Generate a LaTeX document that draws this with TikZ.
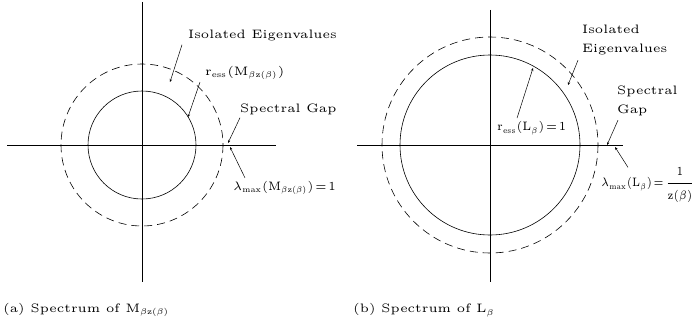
\documentclass[tikz,border=0pt]{standalone}
\usepackage{graphicx}
\usetikzlibrary{arrows.meta}
\newcommand{\smalltxt}[1]{\scalebox{2.45}{\fontsize{5}{7.75}\selectfont #1}}
\newcommand{\narrowtxt}[2]{\scalebox{#1}[2.45]{\fontsize{5}{7.75}\selectfont #2}}
\newcommand{\sbx}[1]{\scalebox{0.68}{$#1$}}
\begin{document}
\begin{tikzpicture}[x=1pt,y=-1pt,
  axis/.style={line width=0.6pt},
  solidc/.style={line width=0.6pt},
  dashc/.style={line width=0.6pt,dash pattern=on 8pt off 5pt},
  lbl/.style={anchor=west,inner sep=0pt},
  ptr/.style={line width=0.5pt,-{Stealth[length=3pt,width=2.5pt]}}]
\useasboundingbox (0,0) rectangle (700,321);
% ---------- panel (a)
\coordinate (ca) at (142,145);
\draw[axis] (142,2) -- (142,282);
\draw[axis] (7,145) -- (276,145);
\draw[solidc] (ca) circle[radius=54];
\draw[dashc] (ca) circle[radius=81];
\node[lbl] (isoa) at (188,36) {\smalltxt{Isolated Eigenvalues}};
\node[lbl] (ressa) at (205,73) {\smalltxt{$\mathrm{r}_{\sbx{\mathrm{ess}}}(\mathrm{M}_{\sbx{\beta\mathrm{z}(\beta)}})$}};
\node[lbl] (gapa) at (240,109) {\smalltxt{Spectral Gap}};
\node[lbl] (lama) at (233,188) {\narrowtxt{2.2}{$\lambda_{\sbx{\mathrm{max}}}(\mathrm{M}_{\sbx{\beta\mathrm{z}(\beta)}})\!=\!1$}};
\node[lbl] (capa) at (3,310) {\smalltxt{(a) Spectrum of $\mathrm{M}_{\sbx{\beta\mathrm{z}(\beta)}}$}};
\coordinate (isoaE) at (170,82);
\coordinate (ressaE) at (188,117);
\coordinate (gapaE) at (228,143);
\coordinate (lamaE) at (230,147);
\draw[ptr] ([xshift=-6pt,yshift=-3pt]isoa.south west) -- (isoaE);
\draw[ptr] ([xshift=-5pt,yshift=-2pt]ressa.south west) -- (ressaE);
\draw[ptr] ([yshift=-3pt]gapa.south west) -- (gapaE);
\draw[ptr] ([xshift=12pt,yshift=3pt]lama.north west) -- (lamaE);
% ---------- panel (b)
\coordinate (cb) at (490,145);
\draw[axis] (490,10) -- (490,282);
\draw[axis] (357,145) -- (623,145);
\draw[solidc] (cb) circle[radius=90];
\draw[dashc] (cb) circle[radius=108];
\node[lbl] (isob) at (582,39) {\smalltxt{\begin{tabular}{@{}l@{}}Isolated\\Eigenvalues\end{tabular}}};
\node[lbl] (ressb) at (497,128) {\narrowtxt{2.15}{$\mathrm{r}_{\sbx{\mathrm{ess}}}(\mathrm{L}_{\sbx{\beta}})\!=\!1$}};
\node[lbl] (gapb) at (617,100) {\smalltxt{\begin{tabular}{@{}l@{}}Spectral\\Gap\end{tabular}}};
\node[lbl] (lamb) at (601,185) {\narrowtxt{1.95}{$\lambda_{\sbx{\mathrm{max}}}(\mathrm{L}_{\sbx{\beta}})\!=\!\displaystyle\frac{1}{\mathrm{z}(\beta)}$}};
\node[lbl] (capb) at (353,310) {\smalltxt{(b) Spectrum of $\mathrm{L}_{\sbx{\beta}}$}};
\coordinate (isobE) at (568,85);
\coordinate (ressbE) at (533,68);
\coordinate (gapbE) at (607,145);
\coordinate (lambE) at (615,147);
\draw[ptr] ([xshift=-4pt,yshift=-2pt]isob.south west) -- (isobE);
\draw[ptr] ([xshift=20pt,yshift=3pt]ressb.north west) -- (ressbE);
\draw[ptr] ([xshift=1pt,yshift=-1pt]gapb.south west) -- (gapbE);
\draw[ptr] ([xshift=27pt]lamb.north west) -- (lambE);
\end{tikzpicture}
\end{document}
